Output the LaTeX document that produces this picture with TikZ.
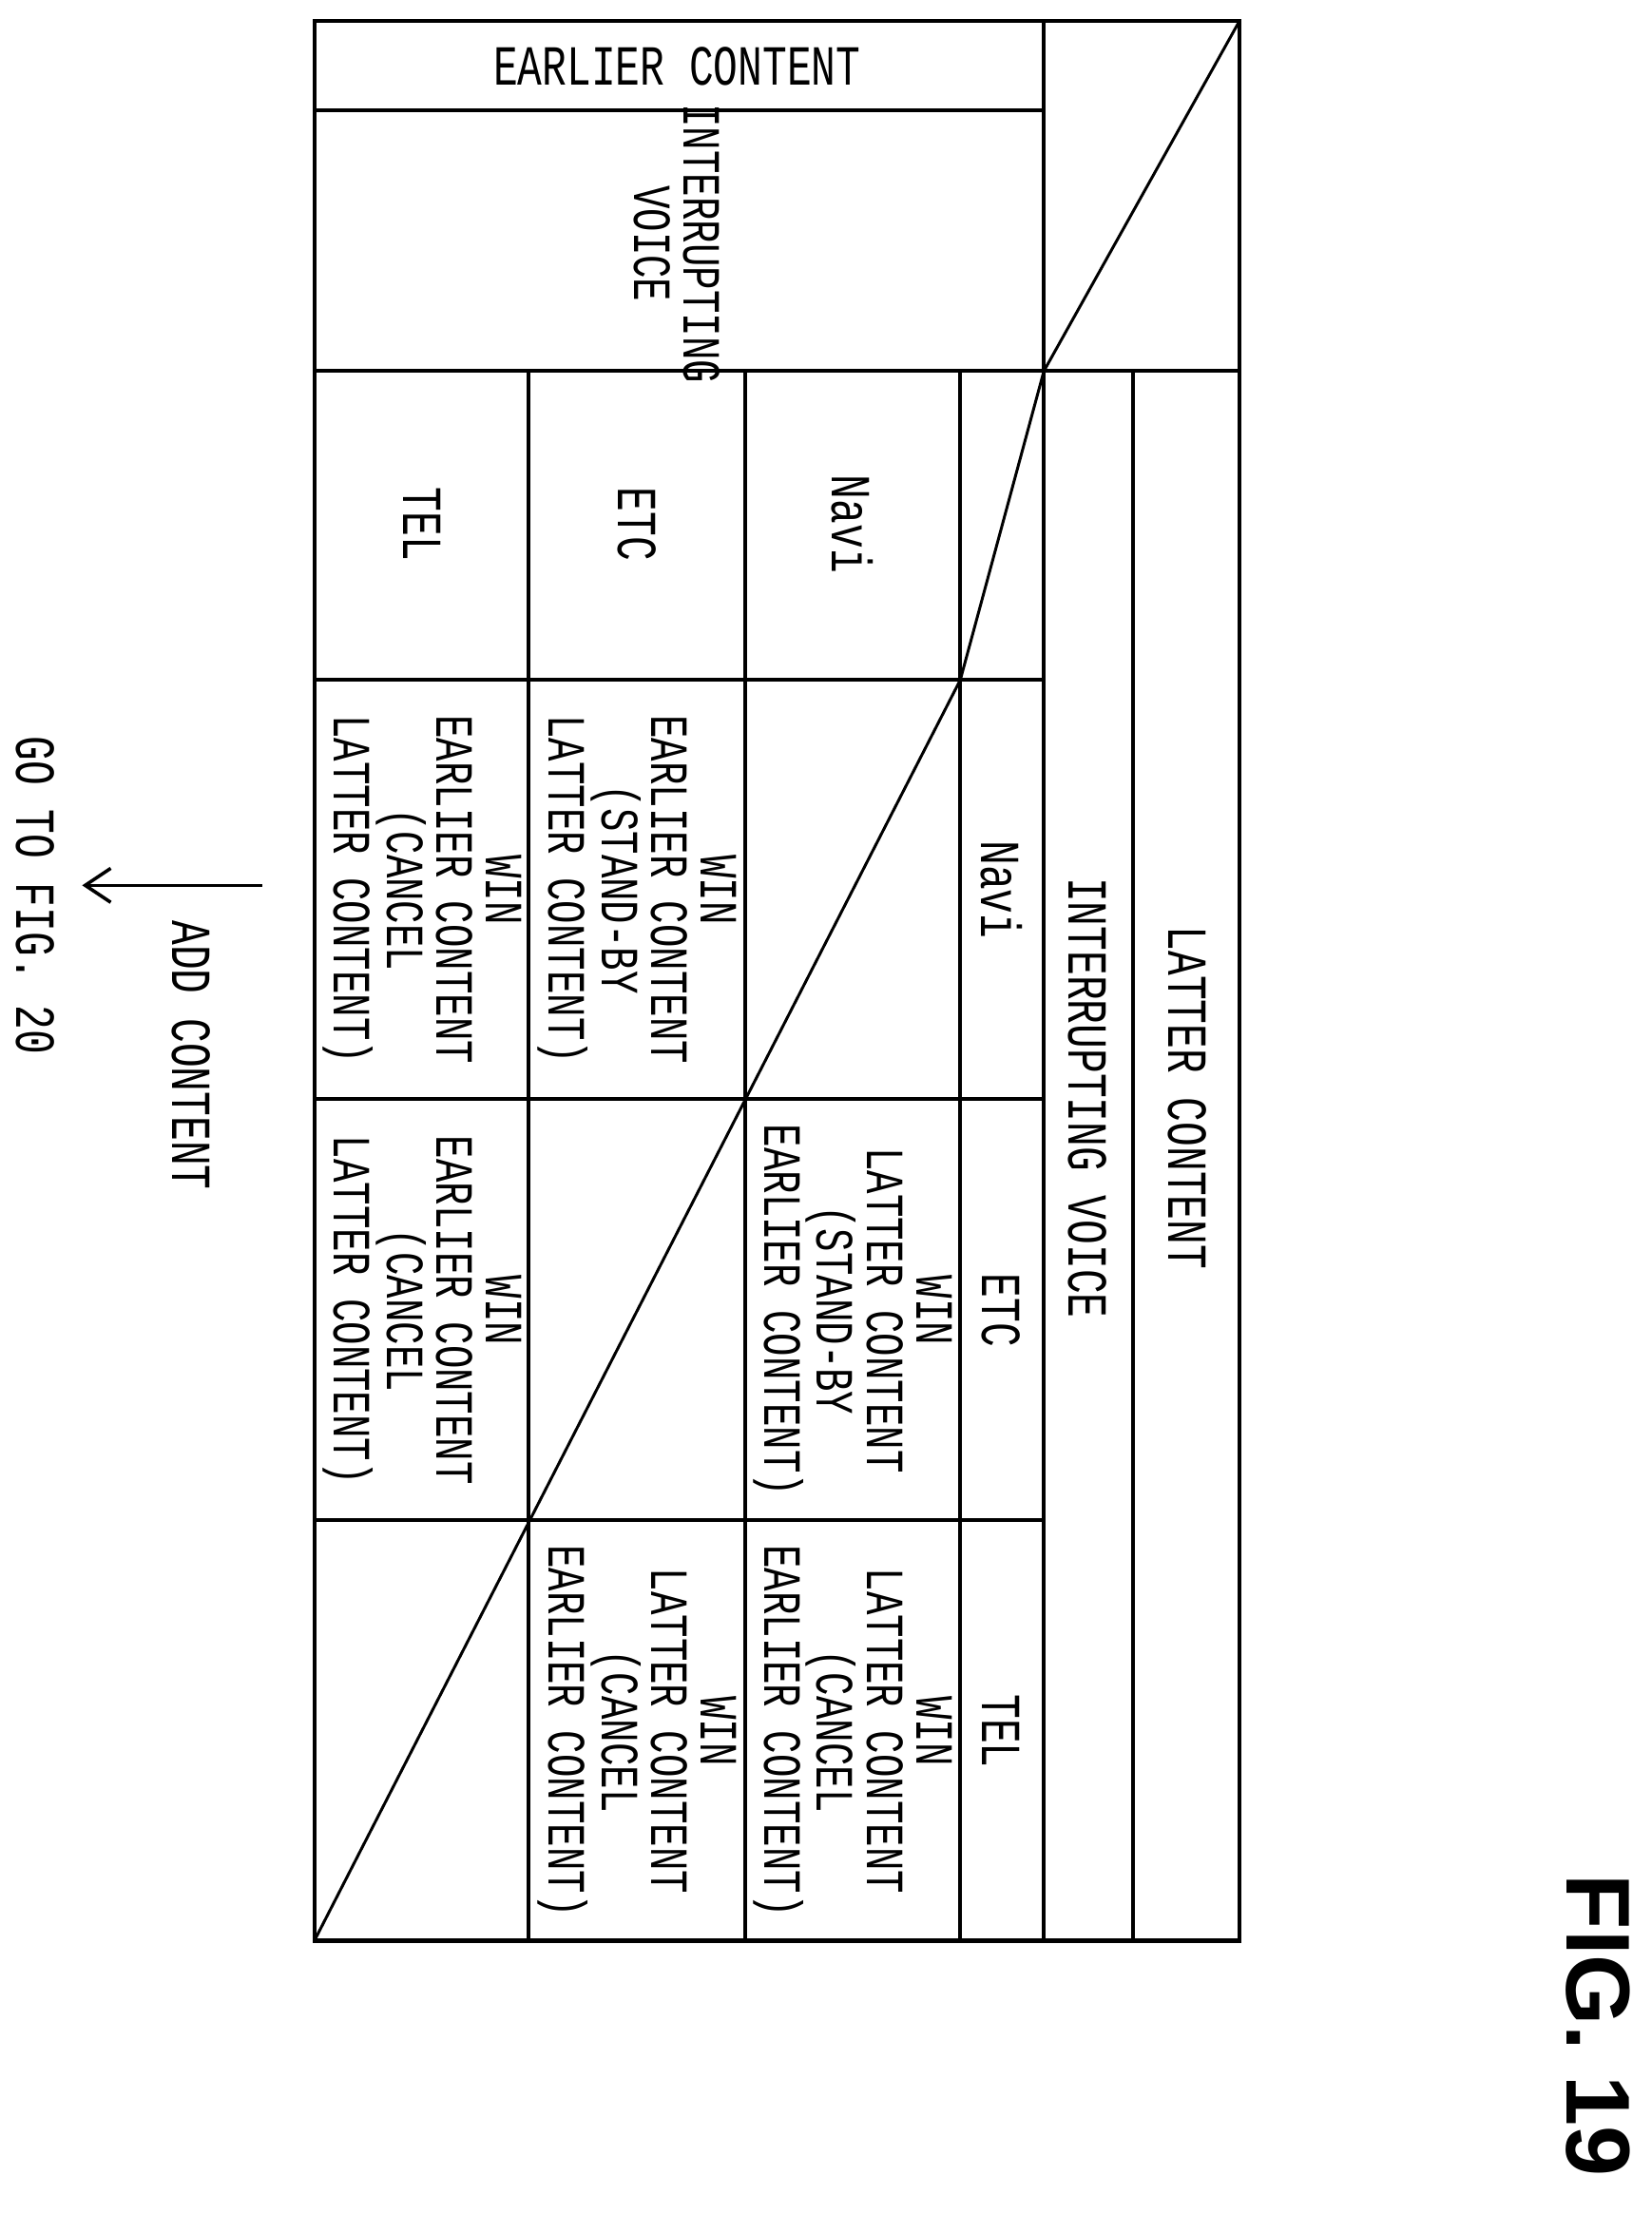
\documentclass[tikz,border=0pt]{standalone}
\usepackage{fontspec}
\usetikzlibrary{arrows.meta}
\newfontfamily\tf[FakeStretch=0.72]{Liberation Mono}
\newfontfamily\figf{Liberation Sans}
\begin{document}
\begin{tikzpicture}[x=0.5pt,y=-0.5pt,
  grid/.style={line width=1.4pt},
  diag/.style={line width=1pt},
  lab/.style={font=\tf\fontsize{20}{16}\selectfont,inner sep=0pt},
  rl/.style={lab,rotate=-90},
  cell/.style={font=\tf\fontsize{19}{17.5}\selectfont,rotate=-90,align=center,inner sep=0pt}]
\useasboundingbox (0,0) rectangle (1166,1563);
% outer frame and lines
\draw[grid] (222,15) rectangle (875,1370);
\draw[grid] (737,15) -- (737,1370);
\draw[grid] (222,78) -- (737,78);
\draw[grid] (222,262) -- (875,262);
\draw[grid] (800,262) -- (800,1370);
\foreach \x in {373,526,678} \draw[grid] (\x,262) -- (\x,1370);
\foreach \y in {480,776,1073} \draw[grid] (222,\y) -- (737,\y);
% diagonals
\coordinate (d0) at (875,15);
\coordinate (d1) at (737,262);
\coordinate (d2) at (678,480);
\coordinate (d3) at (222,1370);
\draw[diag] (d0) -- (d1) -- (d2) -- (d3);
% headers
\node[lab] (ec) at (478,47) {EARLIER CONTENT};
\node[cell] (iv1) at (478,172) {INTERRUPTING\\VOICE};
\node[rl] (lc) at (838,775) {LATTER CONTENT};
\node[rl] (iv2) at (768,775) {INTERRUPTING VOICE};
\node[rl] (cn) at (707,628) {Navi};
\node[rl] (ce) at (707,925) {ETC};
\node[rl] (ct) at (707,1222) {TEL};
\node[rl] (rn) at (602,370) {Navi};
\node[rl] (re) at (450,370) {ETC};
\node[rl] (rt) at (298,370) {TEL};
% cells
\node[cell] (ne) at (602,925) {WIN\\LATTER CONTENT\\(STAND-BY\\EARLIER CONTENT)};
\node[cell] (nt) at (602,1222) {WIN\\LATTER CONTENT\\(CANCEL\\EARLIER CONTENT)};
\node[cell] (en) at (450,628) {WIN\\EARLIER CONTENT\\(STAND-BY\\LATTER CONTENT)};
\node[cell] (et) at (450,1222) {WIN\\LATTER CONTENT\\(CANCEL\\EARLIER CONTENT)};
\node[cell] (tn) at (298,628) {WIN\\EARLIER CONTENT\\(CANCEL\\LATTER CONTENT)};
\node[cell] (te) at (298,925) {WIN\\EARLIER CONTENT\\(CANCEL\\LATTER CONTENT)};
% arrow
\coordinate (a0) at (185,625);
\coordinate (a1) at (58,625);
\draw[line width=1.2pt,-{Straight Barb[length=9pt,width=12pt]}] (a0) -- (a1);
\node[rl] (add) at (135,745) {ADD CONTENT};
\node[rl] (go) at (25,632) {GO TO FIG. 20};
\node[font=\figf\bfseries\fontsize{32}{32}\selectfont,rotate=-90,inner sep=0pt] (fig) at (1128,1430) {FIG. 19};
\end{tikzpicture}
\end{document}
